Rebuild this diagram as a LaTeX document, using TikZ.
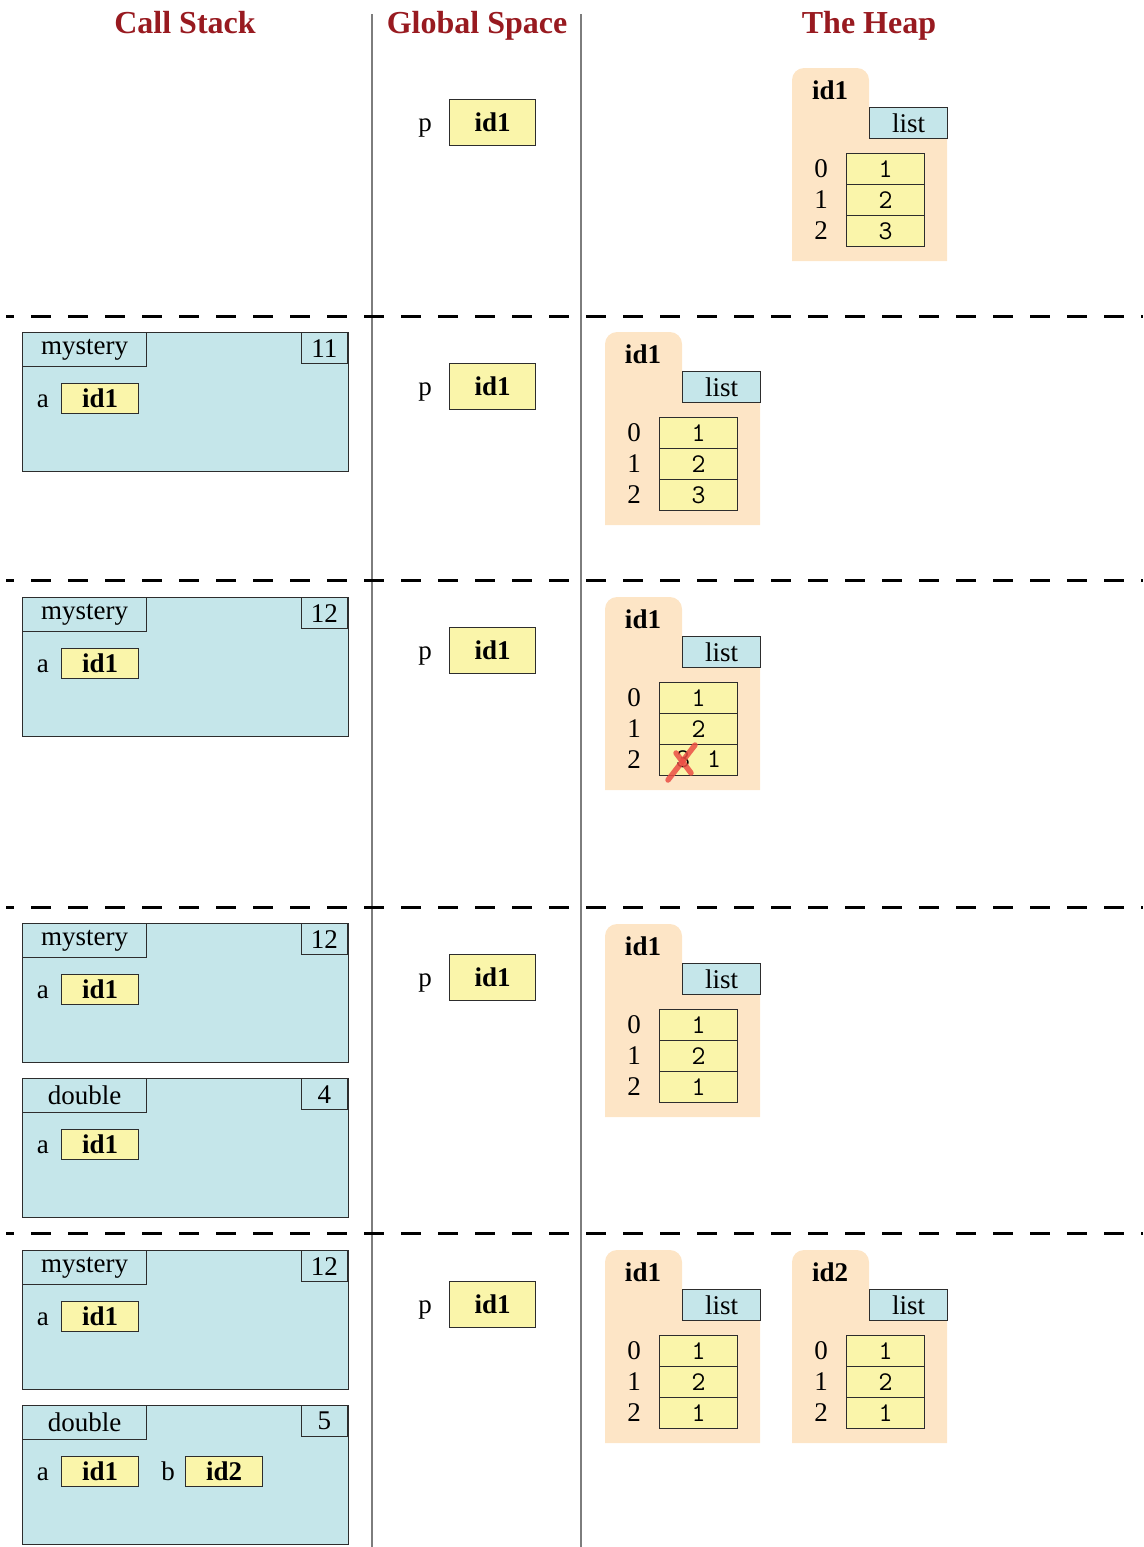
\documentclass[tikz,border=0pt]{standalone}
\usepackage{fontspec}
\setmainfont{Liberation Serif}
\definecolor{hdr}{RGB}{152,26,32}
\definecolor{peach}{RGB}{253,229,198}
\definecolor{bluefill}{RGB}{197,230,234}
\definecolor{yelfill}{RGB}{250,245,170}
\definecolor{boxline}{RGB}{45,45,45}
\definecolor{sepgray}{RGB}{125,125,125}
\definecolor{crossred}{RGB}{235,78,68}
\tikzset{
  bx/.style={draw=boxline, line width=1.3pt, inner sep=0pt, anchor=north west},
  yel/.style={bx, fill=yelfill},
  blu/.style={bx, fill=bluefill},
  cellbox/.style={yel, minimum width=78pt, minimum height=31pt},
  hdrtext/.style={text=hdr, anchor=base, font=\fontsize{32}{36}\selectfont\bfseries},
  sepline/.style={draw=sepgray, line width=1.4pt},
  dashline/.style={draw=black, line width=3pt, dash pattern=on 20pt off 17pt, dash phase=12pt},
  lbl/.style={inner sep=0pt, anchor=base east},
}
\newcommand{\cframe}[4]{%
  \node[blu, minimum width=326pt, minimum height=139pt] (#1) at (22,#2) {};
  \node[blu, minimum width=124pt, minimum height=34pt] (#1t) at (22,#2) {#3};
  \node[blu, anchor=north east, minimum width=46pt, minimum height=31pt] (#1n) at (348,#2) {#4};
  \node[yel, minimum width=77pt, minimum height=30pt] (#1a) at (61,{#2+51}) {\bfseries id1};
  \node[lbl] (#1al) at ([xshift=-12pt]#1a.base west) {a};
}
\newcommand{\gvar}[2]{%
  \node[yel, minimum width=86pt, minimum height=46pt] (#1) at (449,#2) {\bfseries id1};
  \node[lbl] (#1l) at ([xshift=-17pt]#1.base west) {p};
}
\newcommand{\heapobj}[7]{%
  \fill[peach] (#2,{#3+193}) -- (#2,{#3+12}) arc[start angle=180,end angle=90,radius=12pt]
     -- ({#2+65},#3) arc[start angle=90,end angle=0,radius=12pt]
     -- ({#2+77},{#3+39}) -- ({#2+155},{#3+39}) -- ({#2+155},{#3+193}) -- cycle;
  \node (#1id) at ({#2+38},{#3+22}) {\bfseries #4};
  \node[blu, minimum width=78pt, minimum height=31pt] (#1t) at ({#2+77},{#3+39}) {list};
  \node[cellbox] (#1c0) at ({#2+54},{#3+85}) {\ttfamily #5};
  \node[cellbox] (#1c1) at ({#2+54},{#3+116}) {\ttfamily #6};
  \node[cellbox] (#1c2) at ({#2+54},{#3+147}) {\ttfamily #7};
  \node (#1i0) at ({#2+29},{#3+100.5}) {0};
  \node (#1i1) at ({#2+29},{#3+131.5}) {1};
  \node (#1i2) at ({#2+29},{#3+162.5}) {2};
}
\begin{document}
\begin{tikzpicture}[x=1pt,y=-1pt,font=\fontsize{27}{32}\selectfont]
\useasboundingbox (0,0) rectangle (1143,1547);
% headers
\node[hdrtext] (h1) at (185,33) {Call Stack};
\node[hdrtext] (h2) at (477,33) {Global Space};
\node[hdrtext] (h3) at (869,33) {The Heap};
% column separators
\coordinate (s1t) at (372,14); \coordinate (s1b) at (372,1547);
\coordinate (s2t) at (581,14); \coordinate (s2b) at (581,1547);
\draw[sepline] (s1t) -- (s1b);
\draw[sepline] (s2t) -- (s2b);
% dashed separators
\foreach \yy/\nm in {316/d1,580/d2,907/d3,1233/d4}{
  \coordinate (\nm l) at (6,\yy); \coordinate (\nm r) at (1143,\yy);
  \draw[dashline] (\nm l) -- (\nm r);
}
% row 1
\gvar{g1}{99}
\heapobj{ha}{792}{68}{id1}{1}{2}{3}
% row 2
\cframe{fa}{332}{mystery}{11}
\gvar{g2}{363}
\heapobj{hb}{605}{332}{id1}{1}{2}{3}
% row 3
\cframe{fb}{597}{mystery}{12}
\gvar{g3}{627}
\heapobj{hc}{605}{597}{id1}{1}{2}{}
\node (hcold) at (683,759.5) {\ttfamily 3};
\node (hcnew) at (714,759.5) {\ttfamily 1};
\coordinate (x1a) at (668,780); \coordinate (x1b) at (695,745);
\coordinate (x2a) at (676,753); \coordinate (x2b) at (691,773);
\draw[crossred, opacity=0.85, line width=5.5pt, line cap=round] (x1a) -- (x1b);
\draw[crossred, opacity=0.85, line width=5.5pt, line cap=round] (x2a) -- (x2b);
% row 4
\cframe{fc}{923}{mystery}{12}
\cframe{fd}{1078}{double}{4}
\gvar{g4}{954}
\heapobj{hd}{605}{924}{id1}{1}{2}{1}
% row 5
\cframe{fe}{1250}{mystery}{12}
\cframe{ff}{1405}{double}{5}
\node[yel, minimum width=77pt, minimum height=30pt] (ffb) at (185,1456) {\bfseries id2};
\node[lbl] (ffbl) at ([xshift=-10pt]ffb.base west) {b};
\gvar{g5}{1281}
\heapobj{he}{605}{1250}{id1}{1}{2}{1}
\heapobj{hf}{792}{1250}{id2}{1}{2}{1}
\end{tikzpicture}
\end{document}
